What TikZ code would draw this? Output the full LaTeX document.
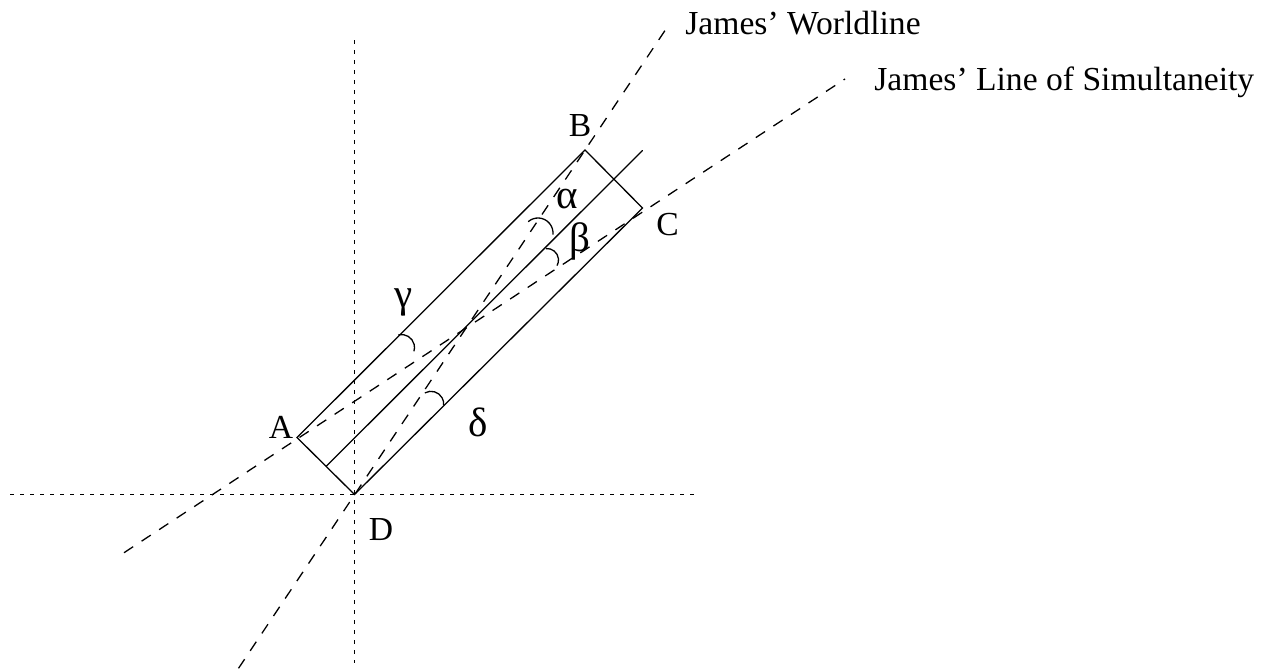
\documentclass[tikz,border=0pt]{standalone}
\usepackage{fontspec}
\setmainfont{Liberation Serif}
\usetikzlibrary{calc}
\tikzset{
  side/.style={line width=0.65pt, line cap=round, line join=miter},
  dashline/.style={line width=0.65pt, dash pattern=on 5.5pt off 5pt},
  axisline/.style={line width=0.7pt, dash pattern=on 2pt off 3pt},
  anglearc/.style={line width=0.65pt},
  lab/.style={anchor=base, inner sep=0pt, font=\fontsize{16.8}{20}\selectfont},
  grk/.style={anchor=base, inner sep=0pt, font=\fontsize{20.5}{24}\selectfont},
  ttl/.style={anchor=base west, inner sep=0pt, font=\fontsize{16.8}{20}\selectfont}
}
\begin{document}
\begin{tikzpicture}[x=0.5pt, y=0.5pt]
\useasboundingbox (0,0) rectangle (1277,-669);
% corners
\coordinate (A) at (297,-437.5);
\coordinate (B) at (585,-150);
\coordinate (C) at (642.5,-208);
\coordinate (D) at (354.5,-494.5);
\coordinate (M1) at (326.5,-466);
\coordinate (M2) at (642.5,-150.5);
% long lines
\coordinate (W1) at (238.5,-668.3);
\coordinate (W2) at (668,-26);
\coordinate (S1) at (124,-552.7);
\coordinate (S2) at (845,-79);
\coordinate (H1) at (10,-494.5);
\coordinate (H2) at (695,-494.5);
\coordinate (V1) at (354.5,-40);
\coordinate (V2) at (354.5,-662.5);

% axes
\draw[axisline] (H1) -- (H2);
\draw[axisline] (V1) -- (V2);
% worldline and simultaneity
\draw[dashline] (W1) -- (W2);
\draw[dashline] (S1) -- (S2);
% rectangle and middle line
\draw[side] (A) -- (B) -- (C) -- (D) -- cycle;
\draw[side] (M1) -- (M2);

% angle arcs
\draw[anglearc] ([shift={(131:7.5pt)}]538,-233) arc[start angle=131, end angle=-6, radius=7.5pt];
\draw[anglearc] ([shift={(96:5.75pt)}]547,-260) arc[start angle=96, end angle=-29, radius=5.75pt];
\draw[anglearc] ([shift={(104:6.5pt)}]401.5,-347.5) arc[start angle=104, end angle=-17, radius=6.5pt];
\draw[anglearc] ([shift={(119:6.35pt)}]431,-404) arc[start angle=119, end angle=-5, radius=6.35pt];

% labels
\node[lab] (lA) at (281,-438) {A};
\node[lab] (lB) at (580,-136) {B};
\node[lab] (lC) at (667.5,-235) {C};
\node[lab] (lD) at (381,-540) {D};
\node[grk] (lal) at (567.5,-208) {α};
\node[grk] (lbe) at (580,-251) {β};
\node[grk] (lga) at (404,-307) {γ};
\node[grk] (lde) at (478,-436) {δ};
\node[ttl] (tW) at (685,-34.3) {James’ Worldline};
\node[ttl] (tS) at (874,-90) {James’ Line of Simultaneity};
\end{tikzpicture}
\end{document}
